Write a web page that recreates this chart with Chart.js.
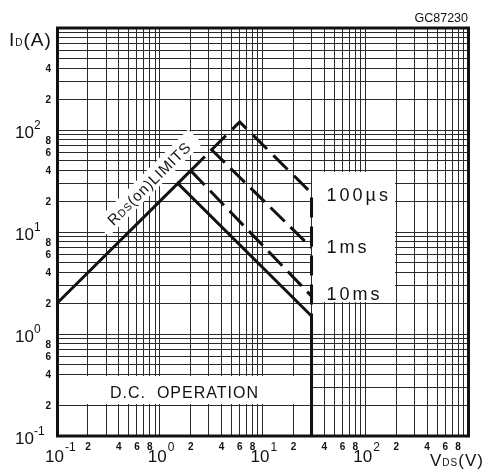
<!DOCTYPE html>
<html>
<head>
<meta charset="utf-8">
<script src="https://cdn.jsdelivr.net/npm/chart.js@4.4.0/dist/chart.umd.min.js"></script>
<style>
  html, body { margin: 0; padding: 0; background: #fff; }
  #soa { display: block; }
</style>
</head>
<body>
<canvas id="soa" width="485" height="475"></canvas>
<script>
// Safe operating area, VDS (V) vs ID (A), log-log
const dcV = [0.1, 1.5, 30, 30];
const dcI = [2, 30, 1.5, 0.1];
const ms10V = [1.5, 2, 30];
const ms10I = [30, 40, 2.35];
const ms1V = [2, 3.2, 30];
const ms1I = [40, 64, 7];
const us100V = [3.2, 6, 30, 30];
const us100I = [64, 120, 24, 1.5];

const xMajorTicks = [0.1, 1, 10, 100];
const xMajorExp = ['-1', '0', '1', '2'];
const xMinorTicks = [0.2, 0.4, 0.6, 0.8, 2, 4, 6, 8, 20, 40, 60, 80, 200, 400, 600, 800];
const yMajorTicks = [0.1, 1, 10, 100];
const yMajorExp = ['-1', '0', '1', '2'];
const yMinorTicks = [0.2, 0.4, 0.6, 0.8, 2, 4, 6, 8, 20, 40, 60, 80, 200, 400];
const decadeStarts = [0.1, 1, 10, 100];
const gridMults = [1, 2, 3, 4, 5, 6, 7, 8, 9];

const gridTicks = decadeStarts.flatMap(d => gridMults.map(m => +(d * m).toPrecision(3))).concat([1000]);

const FONT = "'Liberation Sans', Arial, sans-serif";
const INK = '#111';

const pts = (xs, ys) => xs.map((v, i) => ({ x: v, y: ys[i] }));
const mantissa = v => Math.round(v / Math.pow(10, Math.floor(Math.log10(v) + 1e-9)));

// draw a run of text pieces with different fonts on one baseline
const drawRich = (ctx, parts, x, y, align, spacing) => {
  ctx.letterSpacing = (spacing || 0) + 'px';
  const widths = parts.map(p => { ctx.font = p.f; return ctx.measureText(p.t).width; });
  const total = widths.reduce((a, b) => a + b, 0);
  let cx = align === 'center' ? x - total / 2 : align === 'right' ? x - total : x;
  ctx.textAlign = 'left';
  ctx.textBaseline = 'alphabetic';
  parts.forEach((p, i) => {
    ctx.font = p.f;
    ctx.fillText(p.t, cx, y + (p.dy || 0));
    cx += widths[i];
  });
  ctx.letterSpacing = '0px';
  return total;
};

const soaDecor = {
  id: 'soaDecor',
  beforeDatasetsDraw(chart) {
    const { ctx, scales: { x, y } } = chart;
    ctx.save();
    ctx.fillStyle = '#fff';

    // white box behind the pulse labels
    let l = Math.round(x.getPixelForValue(30)), r = Math.round(x.getPixelForValue(200));
    let t = Math.round(y.getPixelForValue(40)), b = Math.round(y.getPixelForValue(2));
    ctx.fillRect(l, t + 1, r - l - 1, b - t - 2);

    // white band for D.C. OPERATION
    l = Math.round(x.getPixelForValue(0.1)); r = Math.round(x.getPixelForValue(30));
    t = Math.round(y.getPixelForValue(0.4)); b = Math.round(y.getPixelForValue(0.2));
    ctx.fillRect(l + 2, t + 1, r - l - 2, b - t - 2);

    // RDS(on) label background, rotated along the limit line
    const p0 = { x: x.getPixelForValue(dcV[0]), y: y.getPixelForValue(dcI[0]) };
    const p1 = { x: x.getPixelForValue(dcV[1]), y: y.getPixelForValue(dcI[1]) };
    const ang = Math.atan2(p1.y - p0.y, p1.x - p0.x);
    const fx = p0.x + (p1.x - p0.x) * 0.88, fy = p0.y + (p1.y - p0.y) * 0.88;
    const cx = fx + Math.sin(ang) * 20, cy = fy - Math.cos(ang) * 20;
    chart.$rdsLabel = { cx, cy, ang };
    ctx.translate(cx, cy);
    ctx.rotate(ang);
    ctx.fillRect(-66, -11, 132, 20);
    ctx.restore();
  },
  afterDraw(chart) {
    const { ctx, chartArea: a, scales: { x, y } } = chart;
    ctx.save();
    ctx.fillStyle = INK;
    ctx.strokeStyle = INK;

    // frame
    ctx.lineWidth = 3;
    ctx.strokeRect(a.left + 0.5, a.top, a.right - a.left, a.bottom - a.top);

    // y major labels 10^n
    yMajorTicks.forEach((v, i) => {
      const py = y.getPixelForValue(v);
      ctx.textAlign = 'left';
      ctx.textBaseline = 'alphabetic';
      ctx.font = `17px ${FONT}`;
      ctx.fillText('10', 15, py + 8);
      ctx.font = `12px ${FONT}`;
      ctx.fillText(yMajorExp[i], 34, py - 1);
    });
    // y minor labels
    ctx.font = `bold 10px ${FONT}`;
    ctx.textAlign = 'right';
    ctx.textBaseline = 'middle';
    yMinorTicks.forEach(v => ctx.fillText(String(mantissa(v)), 51, y.getPixelForValue(v) + 1));

    // x major labels
    xMajorTicks.forEach((v, i) => {
      const px = x.getPixelForValue(v);
      ctx.textBaseline = 'alphabetic';
      ctx.font = `17px ${FONT}`;
      ctx.textAlign = 'right';
      ctx.fillText('10', px + 7, 462);
      ctx.font = `12px ${FONT}`;
      ctx.textAlign = 'left';
      ctx.fillText(xMajorExp[i], px + 8, 451);
    });
    // x minor labels
    ctx.font = `bold 10px ${FONT}`;
    ctx.textAlign = 'center';
    ctx.textBaseline = 'alphabetic';
    xMinorTicks.forEach(v => ctx.fillText(String(mantissa(v)), x.getPixelForValue(v), 450));

    // axis titles
    drawRich(ctx, [
      { t: 'I', f: `19px ${FONT}` },
      { t: 'D', f: `10px ${FONT}` },
      { t: '(A)', f: `19px ${FONT}` }
    ], 9, 46, 'left', 1);
    drawRich(ctx, [
      { t: 'V', f: `17px ${FONT}` },
      { t: 'DS', f: `10px ${FONT}` },
      { t: '(V)', f: `17px ${FONT}` }
    ], 430, 466, 'left', 1);

    // figure code
    ctx.font = `12.5px ${FONT}`;
    ctx.textAlign = 'right';
    ctx.fillText('GC87230', 468, 22);

    // pulse labels, placed at the ends of their lines
    const lx = x.getPixelForValue(30) + 15;
    ctx.textAlign = 'left';
    ctx.font = `18px ${FONT}`;
    ctx.letterSpacing = '3px';
    ctx.fillText('100\u00b5s', lx, y.getPixelForValue(us100I[2]) + 8);
    ctx.fillText('1ms', lx, y.getPixelForValue(ms1I[2]) + 5);
    ctx.fillText('10ms', lx, y.getPixelForValue(ms10I[2]) + 4);

    // D.C. OPERATION
    ctx.font = `16px ${FONT}`;
    ctx.letterSpacing = '1px';
    ctx.fillText('D.C.  OPERATION', 110, 398);
    ctx.letterSpacing = '0px';

    // RDS(on) LIMITS along the line
    const lab = chart.$rdsLabel;
    if (lab) {
      ctx.translate(lab.cx, lab.cy);
      ctx.rotate(lab.ang);
      drawRich(ctx, [
        { t: 'R', f: `15px ${FONT}` },
        { t: 'DS', f: `10.5px ${FONT}` },
        { t: '(on)LIMITS', f: `15px ${FONT}` }
      ], 0, 5, 'center', 0.8);
    }
    ctx.restore();
  }
};

const lineStyle = {
  borderColor: INK,
  borderWidth: 3,
  pointRadius: 0,
  tension: 0,
  fill: false,
  borderCapStyle: 'butt',
  borderJoinStyle: 'miter'
};

const logAxis = (fit) => ({
  type: 'logarithmic',
  min: 0.1,
  max: 1000,
  afterBuildTicks: s => { s.ticks = gridTicks.map(v => ({ value: v })); },
  afterFit: fit,
  ticks: { display: false },
  grid: { color: '#2a2a2a', lineWidth: 1, drawTicks: false },
  border: { display: false }
});

new Chart(document.getElementById('soa').getContext('2d'), {
  type: 'line',
  data: {
    datasets: [
      { label: 'DC', data: pts(dcV, dcI), ...lineStyle },
      {
        label: '10ms', data: pts(ms10V, ms10I), ...lineStyle,
        segment: { borderDash: c => c.p0DataIndex === 0 ? [] : [20, 8] }
      },
      { label: '1ms', data: pts(ms1V, ms1I), ...lineStyle, borderDash: [20, 8] },
      { label: '100us', data: pts(us100V, us100I), ...lineStyle, borderDash: [20, 9] }
    ]
  },
  options: {
    responsive: false,
    animation: false,
    devicePixelRatio: 1,
    layout: { padding: { top: 28, right: 17, left: 0, bottom: 0 } },
    plugins: { legend: { display: false }, tooltip: { enabled: false } },
    scales: {
      x: logAxis(s => { s.height = 39; }),
      y: logAxis(s => { s.width = 57; })
    }
  },
  plugins: [soaDecor]
});
</script>
</body>
</html>
